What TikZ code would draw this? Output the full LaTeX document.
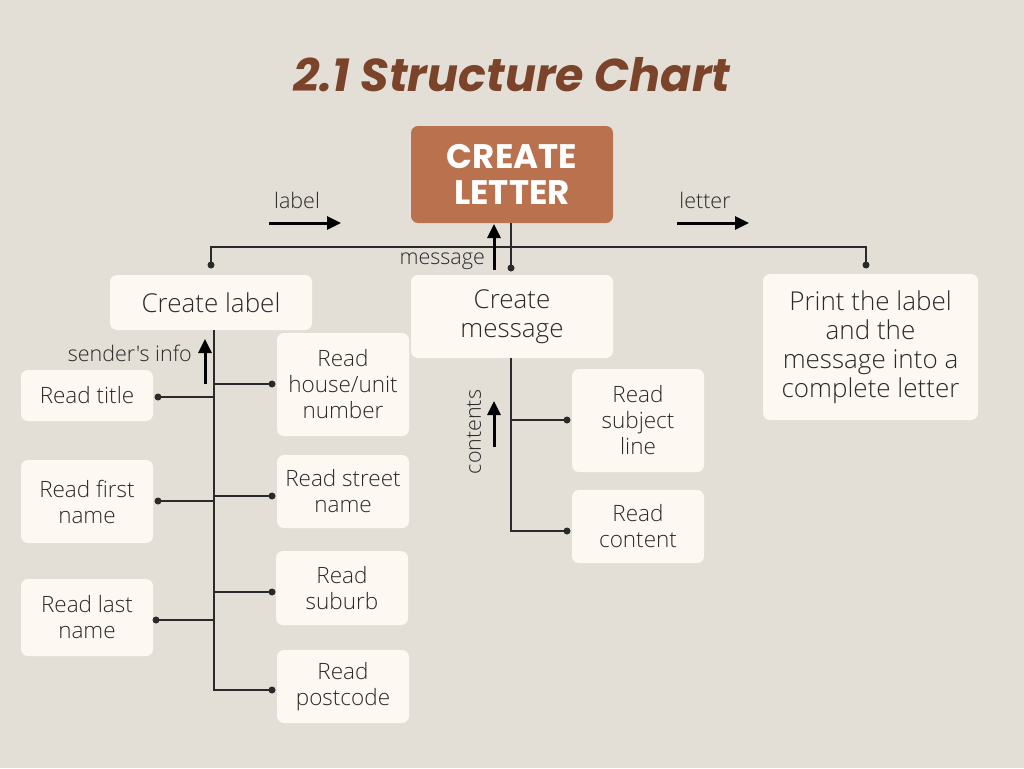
\documentclass[tikz,border=0pt]{standalone}
\usepackage{fontspec}
\setmainfont{Open Sans}
\newfontfamily\titlefont{Poppins}
\newfontfamily\lightfont{Open Sans Light}[Ligatures=TeXOff]
\usetikzlibrary{arrows.meta}
\definecolor{bg}{HTML}{E3DFD7}
\definecolor{boxc}{HTML}{FDF8F1}
\definecolor{brownbox}{HTML}{B9714E}
\definecolor{titlec}{HTML}{7B432A}
\definecolor{ink}{HTML}{2A2A2A}
\begin{document}
\begin{tikzpicture}[x=1pt,y=-1pt,
 box/.style={fill=boxc, rounded corners=7pt, text=ink, align=center, inner sep=0pt},
 bigt/.style={font=\lightfont\fontsize{26}{29}\selectfont},
 smallt/.style={font=\lightfont\fontsize{22.5}{26}\selectfont},
 conn/.style={draw=ink, line width=2pt},
 dotn/.style={circle, fill=ink, inner sep=0pt, minimum size=7pt},
 flow/.style={line width=3pt, draw=black, -{Triangle[length=14pt,width=13pt]}},
 lbl/.style={font=\lightfont\fontsize{21.5}{24}\selectfont, text=ink, inner sep=0pt}]
\fill[bg] (0,0) rectangle (1024,768);
\useasboundingbox (0,0) rectangle (1024,768);
% title
\node[font=\titlefont\bfseries\itshape\fontsize{46}{50}\selectfont, text=titlec] (title) at (512,75) {2.1 Structure Chart};
% top box
\node[box, fill=brownbox, text=white, minimum width=202pt, minimum height=97pt,
  font=\titlefont\bfseries\fontsize{34}{36}\selectfont] (top) at (512,174.5) {CREATE\\LETTER};
% level 1
\node[box, bigt, minimum width=202pt, minimum height=55pt] (cl) at (211,302.5) {Create label};
\node[box, bigt, minimum width=202pt, minimum height=83pt] (cm) at (512,316.5) {Create\\message};
\node[box, bigt, minimum width=215pt, minimum height=146pt] (pr) at (870.5,347) {Print the label\\and the\\message into a\\complete letter};
% left column
\node[box, smallt, minimum width=132pt, minimum height=51pt] (rt) at (87,395.5) {Read title};
\node[box, smallt, minimum width=132pt, minimum height=83pt] (rf) at (87,501.5) {Read first\\name};
\node[box, smallt, minimum width=132pt, minimum height=77pt] (rl) at (87,617.5) {Read last\\name};
% right column
\node[box, smallt, minimum width=132pt, minimum height=103pt] (rh) at (343,384.5) {Read\\house/unit\\number};
\node[box, smallt, minimum width=132pt, minimum height=73pt] (rs) at (343,491.5) {Read street\\name};
\node[box, smallt, minimum width=132pt, minimum height=74pt] (ru) at (342,588) {Read\\suburb};
\node[box, smallt, minimum width=132pt, minimum height=73pt] (rp) at (343,686.5) {Read\\postcode};
% message column
\node[box, smallt, minimum width=132pt, minimum height=103pt] (rj) at (638,420.5) {Read\\subject\\line};
\node[box, smallt, minimum width=132pt, minimum height=73pt] (rc) at (638,526.5) {Read\\content};
% dots
\node[dotn] (dL) at (211,265) {};
\node[dotn] (dM) at (511,268) {};
\node[dotn] (dR) at (866,265) {};
\node[dotn] (drt) at (158,397) {};
\node[dotn] (drf) at (158,501) {};
\node[dotn] (drl) at (156,620) {};
\node[dotn] (drh) at (272,384) {};
\node[dotn] (drs) at (272,496) {};
\node[dotn] (dru) at (272,592) {};
\node[dotn] (drp) at (272,690) {};
\node[dotn] (drj) at (567,420) {};
\node[dotn] (drc) at (567,531) {};
% bus coordinates
\coordinate (busL) at (211,247);
\coordinate (busR) at (866,247);
\coordinate (ltop) at (214,330);
\coordinate (lbot) at (214,690);
\coordinate (mtop) at (511,358);
\coordinate (mbot) at (511,531);
% connectors
\draw[conn] (dL.center) -- (busL) -- (busR) -- (dR.center);
\draw[conn] (top.south -| dM) -- (dM.center);
\draw[conn] (ltop) -- (lbot) -- (drp.center);
\draw[conn] (drt.center) -- (drt -| ltop);
\draw[conn] (drf.center) -- (drf -| ltop);
\draw[conn] (drl.center) -- (drl -| ltop);
\draw[conn] (drh -| ltop) -- (drh.center);
\draw[conn] (drs -| ltop) -- (drs.center);
\draw[conn] (dru -| ltop) -- (dru.center);
\draw[conn] (mtop) -- (mbot) -- (drc.center);
\draw[conn] (drj -| mtop) -- (drj.center);
% data flows
\coordinate (a1s) at (269,223); \coordinate (a1e) at (341,223);
\draw[flow] (a1s) -- (a1e);
\node[lbl, anchor=base] (l1) at (297,208) {label};
\coordinate (a2s) at (677,223); \coordinate (a2e) at (749,223);
\draw[flow] (a2s) -- (a2e);
\node[lbl, anchor=base] (l2) at (705,208) {letter};
\coordinate (a3s) at (494,270); \coordinate (a3e) at (494,224);
\draw[flow] (a3s) -- (a3e);
\node[lbl, anchor=base east] (l3) at (485,264) {message};
\coordinate (a4s) at (205,384); \coordinate (a4e) at (205,339);
\draw[flow] (a4s) -- (a4e);
\node[lbl, anchor=base east] (l4) at (192,361) {sender's info};
\coordinate (a5s) at (494,447); \coordinate (a5e) at (494,401);
\draw[flow] (a5s) -- (a5e);
\node[lbl, rotate=90] (l5) at (474,432) {contents};
\end{tikzpicture}
\end{document}
